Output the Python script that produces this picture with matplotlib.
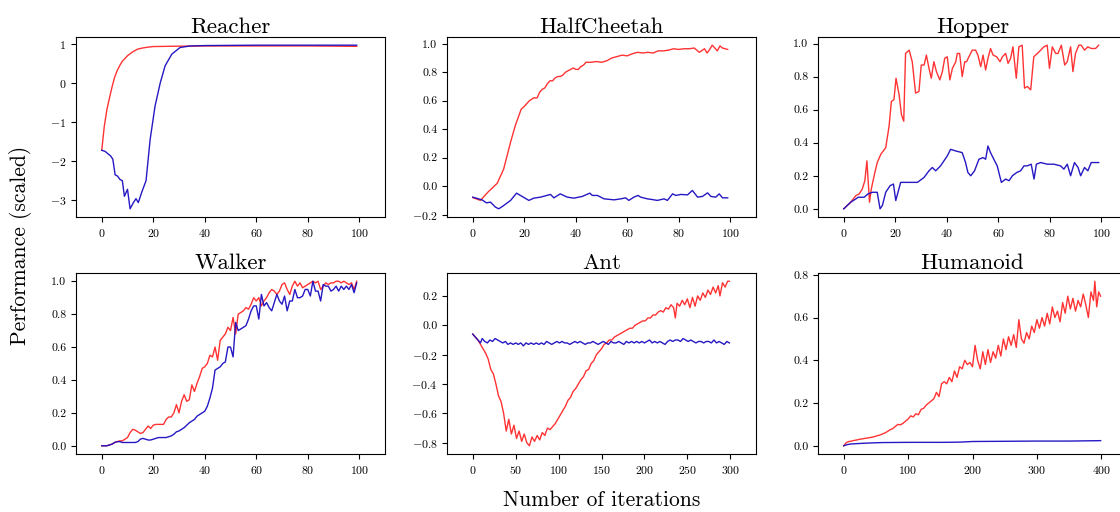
import numpy as np
import matplotlib
matplotlib.use('Agg')
import matplotlib.pyplot as plt

plt.rcParams['font.family'] = 'cmr10'
plt.rcParams['mathtext.fontset'] = 'cm'
plt.rcParams['axes.formatter.use_mathtext'] = True
plt.rcParams['axes.unicode_minus'] = True

### data (x = iteration, y = scaled performance)
reacher_red_x = [0, 1, 2, 3, 4, 5, 6, 7, 8, 10, 12, 14, 16, 18, 20, 25, 30, 40, 60, 80, 99]
reacher_red_y = [-1.72, -1.1, -0.68, -0.38, -0.1, 0.15, 0.32, 0.45, 0.56, 0.7, 0.8, 0.87, 0.9, 0.92, 0.935, 0.94, 0.945, 0.95, 0.95, 0.95, 0.94]
reacher_blue_x = [0, 1.3, 2.6, 3.5, 4.3, 5.2, 6.1, 7.1, 8, 8.8, 10, 11, 12.3, 13.3, 14.2, 15.5, 17.2, 18.8, 20.7, 22.7, 24.6, 27.2, 30.4, 34.3, 40, 60, 80, 99]
reacher_blue_y = [-1.72, -1.75, -1.82, -1.87, -1.95, -2.35, -2.38, -2.47, -2.5, -2.9, -2.72, -3.22, -3.06, -2.96, -3.06, -2.8, -2.5, -1.44, -0.59, 0.0, 0.44, 0.74, 0.91, 0.95, 0.96, 0.97, 0.97, 0.97]

cheetah_red_x = [0, 3, 6, 9.5, 12, 14.7, 16.6, 18.8, 20, 21, 22, 23.7, 25, 26, 27, 28, 29, 30, 31, 32, 33, 34, 35, 36, 37, 38, 39, 40, 41, 42, 43, 44, 45, 46, 48, 50, 52, 54, 56, 58, 60, 62, 64, 66, 68, 70, 72, 74, 76, 78, 80, 82, 84, 86, 87, 88, 90, 91, 92, 93, 95, 96, 97, 99]
cheetah_red_y = [-0.08, -0.1, -0.04, 0.02, 0.12, 0.31, 0.43, 0.54, 0.56, 0.58, 0.6, 0.62, 0.62, 0.66, 0.68, 0.69, 0.72, 0.74, 0.74, 0.76, 0.77, 0.77, 0.78, 0.8, 0.81, 0.82, 0.83, 0.82, 0.82, 0.84, 0.85, 0.87, 0.87, 0.87, 0.875, 0.87, 0.88, 0.9, 0.91, 0.92, 0.915, 0.93, 0.94, 0.935, 0.94, 0.935, 0.95, 0.95, 0.955, 0.965, 0.96, 0.965, 0.965, 0.97, 0.955, 0.94, 0.965, 0.935, 0.96, 0.99, 0.95, 0.985, 0.97, 0.96]
cheetah_blue_x = [0, 3.6, 5.3, 6.9, 8.8, 10.1, 12, 14.7, 17, 18.5, 21.8, 23.7, 26.3, 30.2, 31.5, 34, 36.7, 39.3, 42.5, 45.5, 46.4, 48.4, 51, 54.9, 57.5, 59.4, 60.6, 62.6, 64.2, 65.2, 67.8, 69.4, 71.7, 74.3, 75.6, 77.6, 78.9, 80.8, 83.4, 85.3, 87.3, 89.2, 91.2, 92.5, 94.4, 95.7, 97, 99]
cheetah_blue_y = [-0.077, -0.096, -0.117, -0.112, -0.147, -0.159, -0.136, -0.1, -0.049, -0.065, -0.1, -0.084, -0.077, -0.058, -0.082, -0.054, -0.077, -0.084, -0.072, -0.049, -0.065, -0.065, -0.089, -0.096, -0.089, -0.082, -0.1, -0.077, -0.065, -0.077, -0.089, -0.093, -0.1, -0.089, -0.1, -0.054, -0.065, -0.058, -0.061, -0.03, -0.077, -0.072, -0.047, -0.072, -0.077, -0.054, -0.082, -0.082]

hopper_red_x = [0, 2.7, 4.7, 6, 7.2, 8.2, 9, 10, 10.7, 11.8, 13, 14.4, 16.3, 17.6, 18.5, 19.5, 20.3, 21.5, 22.4, 23.3, 24, 25.4, 26.6, 27.9, 29.2, 30.1, 31.2, 32.1, 33.1, 34, 35, 36, 37.3, 38.3, 39.2, 40.2, 41.2, 42.2, 43.5, 44.1, 45, 46, 47, 47.7, 48.6, 49.9, 51.2, 52.1, 53.2, 54.1, 55.1, 56, 57, 58, 59.4, 60.7, 61.6, 62.9, 63.8, 64.8, 65.7, 67, 68, 69.3, 70.2, 71.3, 72.6, 73.8, 75.2, 76.5, 77.7, 79, 79.9, 81, 82.3, 83.2, 84.5, 85.8, 86.8, 88.1, 89, 90, 91.3, 92.2, 93.5, 94.8, 96.1, 97.8, 99]
hopper_red_y = [0.0, 0.04, 0.08, 0.09, 0.12, 0.17, 0.29, 0.04, 0.12, 0.2, 0.28, 0.33, 0.37, 0.5, 0.65, 0.66, 0.79, 0.69, 0.57, 0.53, 0.94, 0.96, 0.89, 0.7, 0.71, 0.87, 0.87, 0.93, 0.85, 0.79, 0.89, 0.83, 0.78, 0.83, 0.91, 0.92, 0.78, 0.85, 0.89, 0.94, 0.94, 0.8, 0.89, 0.89, 0.92, 0.96, 0.96, 0.93, 0.86, 0.93, 0.84, 0.91, 0.97, 0.93, 0.92, 0.89, 0.92, 0.94, 0.88, 0.91, 0.98, 0.79, 0.98, 0.99, 0.73, 0.74, 0.72, 0.92, 0.94, 0.96, 0.98, 0.99, 0.85, 0.98, 0.94, 0.94, 0.99, 0.87, 0.89, 0.98, 0.83, 0.94, 0.99, 0.99, 0.96, 0.98, 0.97, 0.97, 0.99]
hopper_blue_x = [0, 2.7, 4.7, 5.6, 7.9, 9.4, 11.1, 13, 14.1, 15, 16.3, 18, 19.3, 20.2, 22.1, 23.4, 25.4, 28.6, 31.2, 33.1, 34.4, 35.7, 37.6, 38.9, 40.2, 41.5, 43.5, 46, 47.3, 48.2, 49.3, 50.8, 52.5, 54.1, 55.1, 56, 57, 58.6, 59.6, 61.2, 62.9, 64.2, 65.5, 67.2, 68.7, 70, 71.3, 72.8, 73.9, 74.8, 76.5, 79, 81.6, 84.2, 85.5, 86.8, 88.1, 89.6, 91, 92, 93.5, 94.8, 96.1, 99]
hopper_blue_y = [0.0, 0.04, 0.06, 0.07, 0.07, 0.09, 0.1, 0.1, 0.0, 0.02, 0.1, 0.14, 0.15, 0.05, 0.16, 0.16, 0.16, 0.16, 0.19, 0.23, 0.25, 0.23, 0.26, 0.29, 0.32, 0.36, 0.35, 0.34, 0.28, 0.22, 0.2, 0.23, 0.3, 0.31, 0.3, 0.38, 0.34, 0.29, 0.26, 0.16, 0.18, 0.17, 0.2, 0.22, 0.23, 0.26, 0.26, 0.27, 0.18, 0.27, 0.28, 0.27, 0.27, 0.26, 0.24, 0.27, 0.2, 0.28, 0.25, 0.2, 0.25, 0.23, 0.28, 0.28]

walker_x = list(range(100))
walker_red = [0.0, 0.0, 0.0, 0.005, 0.01, 0.02, 0.025, 0.03, 0.03, 0.04, 0.05, 0.08, 0.1, 0.095, 0.085, 0.075, 0.08, 0.1, 0.12, 0.105, 0.125, 0.13, 0.13, 0.13, 0.13, 0.16, 0.175, 0.175, 0.2, 0.25, 0.2, 0.27, 0.31, 0.27, 0.28, 0.37, 0.33, 0.38, 0.42, 0.47, 0.48, 0.5, 0.55, 0.54, 0.6, 0.52, 0.64, 0.66, 0.68, 0.72, 0.7, 0.78, 0.68, 0.8, 0.81, 0.82, 0.84, 0.83, 0.86, 0.9, 0.88, 0.9, 0.85, 0.88, 0.9, 0.93, 0.95, 0.94, 0.92, 0.94, 0.98, 0.99, 0.95, 0.92, 0.97, 1.0, 0.97, 0.99, 0.96, 0.97, 0.98, 0.99, 1.0, 0.99, 1.0, 0.95, 0.97, 0.99, 0.98, 0.99, 0.99, 1.0, 1.0, 0.99, 1.0, 0.99, 0.98, 0.99, 0.95, 1.0]
walker_blue = [0.0, 0.0, 0.0, 0.005, 0.01, 0.02, 0.025, 0.025, 0.02, 0.02, 0.02, 0.02, 0.02, 0.02, 0.025, 0.04, 0.045, 0.04, 0.035, 0.035, 0.04, 0.045, 0.05, 0.05, 0.05, 0.05, 0.055, 0.06, 0.07, 0.085, 0.09, 0.1, 0.11, 0.125, 0.14, 0.15, 0.16, 0.18, 0.19, 0.2, 0.21, 0.24, 0.29, 0.35, 0.46, 0.47, 0.48, 0.5, 0.51, 0.6, 0.6, 0.54, 0.75, 0.7, 0.71, 0.72, 0.73, 0.77, 0.82, 0.85, 0.85, 0.77, 0.92, 0.85, 0.87, 0.84, 0.82, 0.87, 0.92, 0.88, 0.86, 0.91, 0.82, 0.88, 0.88, 0.95, 0.9, 0.9, 0.91, 0.95, 0.95, 0.91, 1.0, 0.94, 0.94, 0.88, 0.98, 0.97, 0.97, 0.94, 0.95, 0.97, 0.94, 0.97, 0.95, 0.97, 0.95, 0.98, 0.93, 0.99]

ant_red_x = [0, 3, 6, 9, 12, 15, 18, 21, 24, 27, 30, 33, 36, 39, 42, 45, 48, 51, 54, 57, 60, 63, 66, 69, 72, 75, 78, 81, 84, 87, 90, 93, 96, 99, 102, 105, 108, 111, 114, 117, 120, 123, 126, 129, 132, 135, 138, 141, 144, 147, 150, 153, 156, 159, 162, 165, 168, 171, 174, 177, 180, 183, 186, 189, 192, 195, 198, 201, 204, 207, 210, 213, 216, 219, 222, 225, 228, 231, 234, 236, 238, 241, 244, 247, 250, 253, 256, 259, 262, 265, 268, 271, 274, 277, 280, 283, 286, 288, 291, 294, 297, 299]
ant_red_y = [-0.06, -0.08, -0.1, -0.13, -0.16, -0.19, -0.23, -0.3, -0.33, -0.4, -0.48, -0.52, -0.6, -0.72, -0.64, -0.74, -0.68, -0.77, -0.72, -0.79, -0.74, -0.8, -0.82, -0.76, -0.79, -0.75, -0.78, -0.73, -0.75, -0.7, -0.71, -0.69, -0.67, -0.64, -0.61, -0.58, -0.55, -0.51, -0.49, -0.45, -0.43, -0.4, -0.37, -0.35, -0.31, -0.3, -0.26, -0.24, -0.2, -0.18, -0.16, -0.13, -0.12, -0.1, -0.1, -0.08, -0.07, -0.06, -0.05, -0.04, -0.03, -0.02, -0.02, 0.0, 0.01, 0.02, 0.03, 0.03, 0.05, 0.05, 0.07, 0.07, 0.09, 0.1, 0.09, 0.12, 0.11, 0.14, 0.12, 0.05, 0.15, 0.13, 0.17, 0.14, 0.18, 0.12, 0.19, 0.13, 0.2, 0.17, 0.22, 0.19, 0.24, 0.21, 0.26, 0.22, 0.27, 0.2, 0.29, 0.26, 0.3, 0.3]
ant_blue_x = [0, 3, 6, 9, 11, 14, 17, 20, 23, 26, 29, 32, 35, 38, 41, 44, 47, 50, 53, 56, 59, 62, 65, 68, 71, 74, 77, 80, 83, 86, 89, 92, 95, 98, 101, 104, 107, 110, 113, 116, 119, 122, 125, 128, 131, 134, 137, 140, 143, 146, 149, 152, 155, 158, 161, 164, 167, 170, 173, 176, 179, 182, 185, 188, 191, 194, 197, 200, 203, 206, 209, 212, 215, 218, 221, 224, 227, 230, 233, 236, 239, 242, 245, 248, 251, 254, 257, 260, 263, 266, 269, 272, 275, 278, 281, 284, 287, 290, 293, 296, 299]
ant_blue_y = [-0.06, -0.08, -0.1, -0.12, -0.09, -0.11, -0.12, -0.1, -0.11, -0.09, -0.1, -0.11, -0.12, -0.11, -0.13, -0.12, -0.13, -0.12, -0.13, -0.12, -0.14, -0.12, -0.13, -0.12, -0.13, -0.12, -0.13, -0.12, -0.13, -0.11, -0.12, -0.13, -0.12, -0.11, -0.12, -0.11, -0.12, -0.12, -0.13, -0.12, -0.11, -0.12, -0.11, -0.12, -0.13, -0.12, -0.12, -0.11, -0.12, -0.13, -0.12, -0.11, -0.12, -0.13, -0.11, -0.12, -0.12, -0.11, -0.12, -0.13, -0.11, -0.12, -0.11, -0.12, -0.11, -0.12, -0.11, -0.12, -0.11, -0.1, -0.12, -0.11, -0.12, -0.11, -0.12, -0.13, -0.11, -0.1, -0.11, -0.1, -0.1, -0.11, -0.09, -0.1, -0.11, -0.1, -0.11, -0.12, -0.11, -0.11, -0.12, -0.11, -0.11, -0.12, -0.1, -0.12, -0.11, -0.12, -0.13, -0.11, -0.12]

humanoid_red_x = [0, 4, 8, 12, 16, 20, 24, 28, 32, 36, 40, 44, 48, 52, 56, 60, 64, 68, 72, 76, 80, 84, 88, 92, 96, 100, 104, 108, 112, 116, 120, 124, 128, 132, 136, 140, 144, 148, 152, 156, 160, 164, 168, 172, 176, 180, 184, 188, 192, 196, 200, 204, 208, 212, 216, 220, 224, 228, 232, 236, 240, 244, 248, 252, 256, 260, 264, 268, 272, 276, 280, 284, 288, 292, 296, 300, 304, 308, 312, 316, 320, 324, 328, 332, 336, 340, 344, 348, 352, 356, 360, 364, 368, 372, 376, 380, 384, 388, 390, 393, 396, 399]
humanoid_red_y = [0.0, 0.015, 0.02, 0.022, 0.025, 0.027, 0.03, 0.032, 0.034, 0.036, 0.038, 0.04, 0.043, 0.047, 0.05, 0.055, 0.06, 0.067, 0.075, 0.08, 0.09, 0.1, 0.098, 0.105, 0.115, 0.125, 0.14, 0.135, 0.15, 0.145, 0.17, 0.175, 0.19, 0.2, 0.21, 0.22, 0.25, 0.23, 0.29, 0.3, 0.29, 0.32, 0.3, 0.35, 0.32, 0.37, 0.36, 0.4, 0.38, 0.39, 0.37, 0.47, 0.4, 0.36, 0.44, 0.38, 0.45, 0.39, 0.44, 0.41, 0.47, 0.42, 0.5, 0.45, 0.51, 0.47, 0.52, 0.46, 0.59, 0.5, 0.48, 0.53, 0.5, 0.56, 0.53, 0.59, 0.55, 0.6, 0.56, 0.62, 0.57, 0.65, 0.6, 0.63, 0.58, 0.67, 0.62, 0.7, 0.64, 0.69, 0.63, 0.68, 0.65, 0.71, 0.66, 0.6, 0.72, 0.68, 0.77, 0.65, 0.72, 0.7]
humanoid_blue_x = [0, 5, 10, 20, 40, 60, 100, 150, 180, 200, 250, 300, 350, 399]
humanoid_blue_y = [0.0, 0.005, 0.008, 0.01, 0.013, 0.015, 0.016, 0.016, 0.017, 0.02, 0.021, 0.022, 0.022, 0.024]

titles = ['Reacher', 'HalfCheetah', 'Hopper', 'Walker', 'Ant', 'Humanoid']
n_iters = [100, 100, 100, 100, 300, 400]
red_series = [(reacher_red_x, reacher_red_y), (cheetah_red_x, cheetah_red_y), (hopper_red_x, hopper_red_y),
              (walker_x, walker_red), (ant_red_x, ant_red_y), (humanoid_red_x, humanoid_red_y)]
blue_series = [(reacher_blue_x, reacher_blue_y), (cheetah_blue_x, cheetah_blue_y), (hopper_blue_x, hopper_blue_y),
               (walker_x, walker_blue), (ant_blue_x, ant_blue_y), (humanoid_blue_x, humanoid_blue_y)]
yticks = [[-3, -2, -1, 0, 1], [-0.2, 0.0, 0.2, 0.4, 0.6, 0.8, 1.0], [0.0, 0.2, 0.4, 0.6, 0.8, 1.0],
          [0.0, 0.2, 0.4, 0.6, 0.8, 1.0], [-0.8, -0.6, -0.4, -0.2, 0.0, 0.2], [0.0, 0.2, 0.4, 0.6, 0.8]]

W, H = 1120, 512
fig = plt.figure(figsize=(W / 100, H / 100), dpi=100)

lefts = [76, 447, 818]
rows = [(37, 217), (273, 454)]
for i in range(6):
    r, c = divmod(i, 3)
    top, bot = rows[r]
    ax = fig.add_axes([lefts[c] / W, 1 - bot / H, 309 / W, (bot - top) / H])
    ax.plot(red_series[i][0], red_series[i][1], color='red', alpha=0.8, lw=1.0)
    ax.plot(blue_series[i][0], blue_series[i][1], color='#1a0cc0', alpha=0.95, lw=1.0)
    N = n_iters[i]
    ax.set_xlim(-0.1 * N, 1.1 * N)
    if N == 100:
        ax.set_xticks([0, 20, 40, 60, 80, 100])
    elif N == 300:
        ax.set_xticks([0, 50, 100, 150, 200, 250, 300])
    else:
        ax.set_xticks([0, 100, 200, 300, 400])
    ax.set_yticks(yticks[i])
    if i != 0:
        ax.yaxis.set_major_formatter(matplotlib.ticker.FuncFormatter(
            lambda v, p: ('$-$' if v < -1e-9 else '') + '%.1f' % abs(v)))
    ax.tick_params(labelsize=8.5)
    ax.set_title(titles[i], fontsize=16.5, pad=3)

fig.text(0.018, 0.52, 'Performance (scaled)', rotation=90, fontsize=15.5, ha='center', va='center')
fig.text(0.537, 0.022, 'Number of iterations', fontsize=15.5, ha='center', va='center')

fig.savefig('out.png', dpi=100)
